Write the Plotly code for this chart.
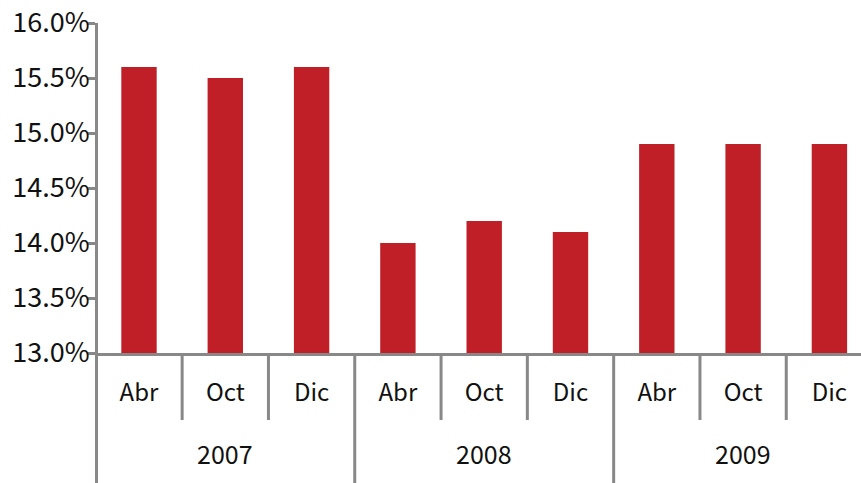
import plotly.graph_objects as go

years = ["2007", "2008", "2009"]
months = ["Abr", "Oct", "Dic"]
values = [15.6, 15.5, 15.6, 14.0, 14.2, 14.1, 14.9, 14.9, 14.9]
y_ticks = [13.0, 13.5, 14.0, 14.5, 15.0, 15.5, 16.0]

month_labels = [m for y in years for m in months]
x_pos = list(range(len(month_labels)))

FONT = "Noto Sans CJK JP"
GRAY = "#888888"
RED = "#c01f27"
LW = 3

W, H = 861, 483
ML, MR, MT, MB = 98, 0, 23, 130
plot_w = W - ML - MR

fig = go.Figure(go.Bar(x=x_pos, y=values, marker=dict(color=RED, line=dict(width=0)),
                       width=0.41, hoverinfo="skip"))

shapes = []
n_m = len(months)
for i in range(len(month_labels) + 1):
    b = i - 0.5
    y1 = -0.42 if i % n_m == 0 else -0.203
    if i == 0:
        shapes.append(dict(type="line", xref="paper", yref="paper",
                           x0=-LW / 2 / plot_w, x1=-LW / 2 / plot_w, y0=0, y1=y1,
                           line=dict(color=GRAY, width=LW)))
    else:
        shapes.append(dict(type="line", xref="x", yref="paper", x0=b, x1=b, y0=0, y1=y1,
                           line=dict(color=GRAY, width=LW)))

annotations = []
for gi, yr in enumerate(years):
    annotations.append(dict(x=gi * n_m + (n_m - 1) / 2, y=-0.303, xref="x", yref="paper",
                            text=yr, showarrow=False, yanchor="middle",
                            font=dict(family=FONT, size=25, color="#111")))

fig.update_layout(
    width=W, height=H,
    margin=dict(l=ML, r=MR, t=MT, b=MB, autoexpand=False),
    paper_bgcolor="white", plot_bgcolor="white",
    showlegend=False,
    shapes=shapes,
    annotations=annotations,
    xaxis=dict(
        range=[-0.475, 8.366], automargin=False,
        tickmode="array", tickvals=x_pos, ticktext=month_labels,
        showline=True, linecolor=GRAY, linewidth=LW,
        ticks="outside", ticklen=16, tickcolor="rgba(0,0,0,0)",
        showgrid=False, zeroline=False, ticklabeloverflow="allow",
        tickfont=dict(family=FONT, size=24, color="#111"),
    ),
    yaxis=dict(
        range=[13, 16], tickmode="array", tickvals=y_ticks, automargin=False,
        ticktext=[f"{v:.1f}%" for v in y_ticks],
        showline=True, linecolor=GRAY, linewidth=LW,
        ticks="outside", ticklen=8, tickwidth=2.5, tickcolor=GRAY,
        ticklabelstandoff=-8, ticklabeloverflow="allow",
        showgrid=False, zeroline=False,
        tickfont=dict(family=FONT, size=27, color="#111"),
    ),
)

fig.write_html("out.html", config={"displayModeBar": False},
               post_script="document.body.style.margin='0';document.body.style.overflow='hidden';")
